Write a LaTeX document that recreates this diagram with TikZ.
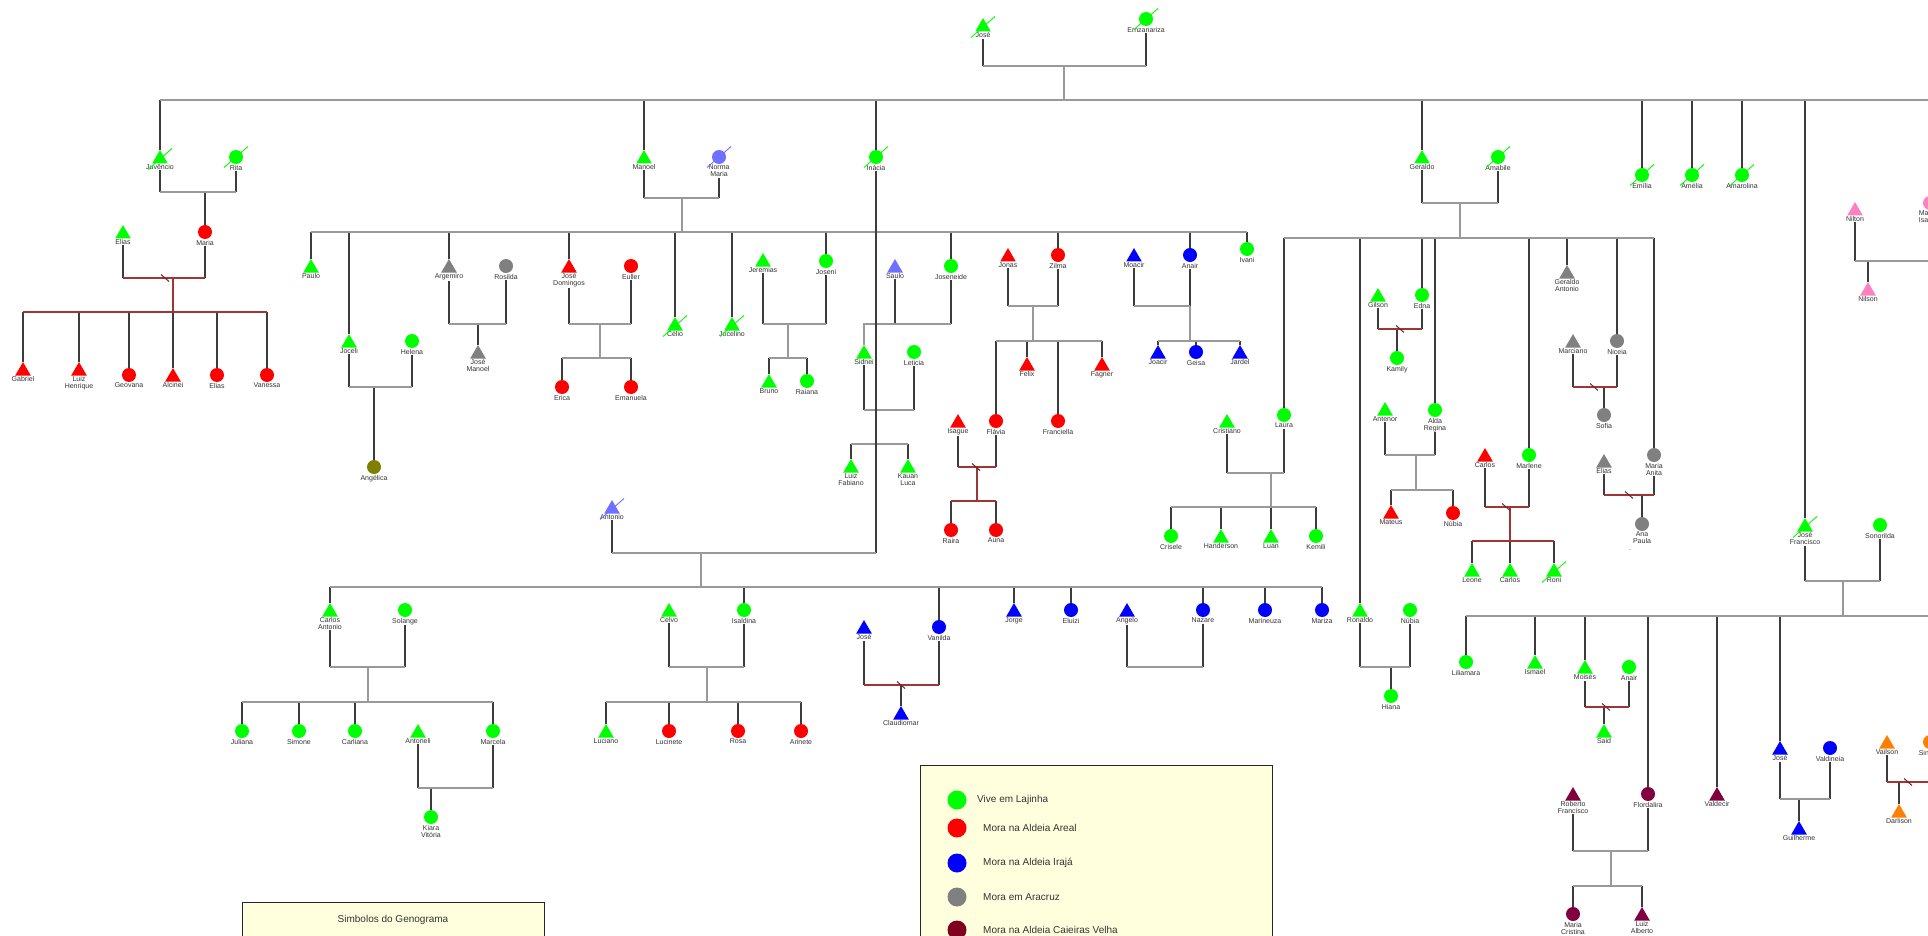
\documentclass[tikz,border=0pt]{standalone}
\usepackage{fontspec}
\setmainfont{Liberation Sans}
\usetikzlibrary{shapes.geometric}

\definecolor{verde}{HTML}{00FF00}
\definecolor{vermelho}{HTML}{FF0000}
\definecolor{azul}{HTML}{0000FF}
\definecolor{cinza}{HTML}{808080}
\definecolor{lilas}{HTML}{7070FF}
\definecolor{oliva}{HTML}{808000}
\definecolor{vinho}{HTML}{800040}
\definecolor{legvinho}{HTML}{800020}
\definecolor{laranja}{HTML}{FF8000}
\definecolor{rosa}{HTML}{FF80C0}
\definecolor{traco}{HTML}{3C3C3C}
\definecolor{elo}{HTML}{999999}
\definecolor{rompido}{HTML}{A03535}
\definecolor{creme}{HTML}{FFFFDD}
\definecolor{texto}{HTML}{333333}

% risco de falecido e corte de separacao
\newcommand{\falecido}[2]{\draw[#2, line width=0.9pt] ([shift={(-12,10.5)}]#1.center) -- ([shift={(12,-10.5)}]#1.center);}
\newcommand{\rompe}[1]{\draw[corte] ([shift={(-4,-3.5)}]#1) -- ([shift={(4,3.5)}]#1);}

\begin{document}
\begin{tikzpicture}[x=1pt, y=-1pt,
    homem/.style={regular polygon, regular polygon sides=3, fill=#1, minimum size=18pt, inner sep=0pt, yshift=-2pt},
    mulher/.style={circle, fill=#1, minimum size=14pt, inner sep=0pt},
    rotulo/.style={font=\fontsize{7}{7}\selectfont, text=texto, align=center, inner sep=0.6pt},
    linha/.style={traco, line width=1.2pt},
    uniao/.style={elo, line width=1.2pt},
    rompida/.style={rompido, line width=1.2pt},
    corte/.style={rompido!70!black, line width=1pt},
    caixa/.style={draw=black!85, fill=creme, line width=0.9pt},
    legenda/.style={font=\fontsize{10}{10}\selectfont, text=texto, anchor=west, inner sep=0pt}]

    \useasboundingbox (0,0) rectangle (1928,936);
    \clip (0,0) rectangle (1928,936);
    \fill[white] (0,0) rectangle (1928,936);

    % Geracao 1
    \node[homem=verde, label={[rotulo,name=jose-l]below:José}] (jose) at (983,25) {};
    \node[mulher=verde, label={[rotulo,name=ernz-l]below:Ernzanariza}] (ernz) at (1146,19) {};

    % Filhos de Jose e Ernzanariza
    \node[homem=verde, label={[rotulo,name=juv-l]below:Juvêncio}] (juv) at (160,157) {};
    \node[mulher=verde, label={[rotulo,name=rita-l]below:Rita}] (rita) at (236,157) {};
    \node[homem=verde, label={[rotulo,name=manoel-l]below:Manoel}] (manoel) at (644,157) {};
    \node[mulher=lilas, label={[rotulo,name=norma-l]below:Norma\\Maria}] (norma) at (719,157) {};
    \node[mulher=verde, label={[rotulo,name=inacia-l]below:Inácia}] (inacia) at (876,157) {};
    \node[homem=verde, label={[rotulo,name=geraldo-l]below:Geraldo}] (geraldo) at (1422,157) {};
    \node[mulher=verde, label={[rotulo,name=amabile-l]below:Amabile}] (amabile) at (1498,157) {};
    \node[mulher=verde, label={[rotulo]below:Emília}] (emilia) at (1642,175) {};
    \node[mulher=verde, label={[rotulo]below:Amélia}] (amelia) at (1692,175) {};
    \node[mulher=verde, label={[rotulo]below:Amarolina}] (amarolina) at (1742,175) {};
    \node[homem=verde, label={[rotulo,name=josefr-l]below:José\\Francisco}] (josefr) at (1805,525) {};
    \node[mulher=verde, label={[rotulo,name=sonorilda-l]below:Sonorilda}] (sonorilda) at (1880,525) {};

    % Ramo de Juvencio e Rita
    \node[homem=verde, label={[rotulo,name=elias1-l]below:Elias}] (elias1) at (123,232) {};
    \node[mulher=vermelho, label={[rotulo,name=maria-l]below:Maria}] (maria) at (205,232) {};
    \node[homem=vermelho, label={[rotulo]below:Gabriel}] (gabriel) at (23,369) {};
    \node[homem=vermelho, label={[rotulo]below:Luiz\\Henrique}] (luizh) at (79,369) {};
    \node[mulher=vermelho, label={[rotulo]below:Geovana}] (geovana) at (129,375) {};
    \node[homem=vermelho, label={[rotulo]below:Alcinei}] (alcinei) at (173,375) {};
    \node[mulher=vermelho, label={[rotulo]below:Elias}] (elias2) at (217,375) {};
    \node[mulher=vermelho, label={[rotulo]below:Vanessa}] (vanessa) at (267,375) {};

    % Ramo de Manoel e Norma Maria
    \node[homem=verde, label={[rotulo]below:Paulo}] (paulo) at (311,266) {};
    \node[homem=verde, label={[rotulo,name=joceli-l]below:Joceli}] (joceli) at (349,341) {};
    \node[mulher=verde, label={[rotulo,name=helena-l]below:Helena}] (helena) at (412,341) {};
    \node[mulher=oliva, label={[rotulo]below:Angélica}] (angelica) at (374,467) {};
    \node[homem=cinza, label={[rotulo,name=argemiro-l]below:Argemiro}] (argemiro) at (449,266) {};
    \node[mulher=cinza, label={[rotulo,name=rosilda-l]below:Rosilda}] (rosilda) at (506,266) {};
    \node[homem=cinza, label={[rotulo]below:José\\Manoel}] (josemanoel) at (478,352) {};
    \node[homem=vermelho, label={[rotulo,name=josedom-l]below:José\\Domingos}] (josedom) at (569,266) {};
    \node[mulher=vermelho, label={[rotulo,name=euller-l]below:Euller}] (euller) at (631,266) {};
    \node[mulher=vermelho, label={[rotulo]below:Erica}] (erica) at (562,387) {};
    \node[mulher=vermelho, label={[rotulo]below:Emanuela}] (emanuela) at (631,387) {};
    \node[homem=verde, label={[rotulo]below:Célio}] (celio) at (675,324) {};
    \node[homem=verde, label={[rotulo]below:Jocelino}] (jocelino) at (732,324) {};
    \node[homem=verde, label={[rotulo,name=jeremias-l]below:Jeremias}] (jeremias) at (763,260) {};
    \node[mulher=verde, label={[rotulo,name=joseni-l]below:Joseni}] (joseni) at (826,261) {};
    \node[homem=verde, label={[rotulo]below:Bruno}] (bruno) at (769,381) {};
    \node[mulher=verde, label={[rotulo]below:Raiana}] (raiana) at (807,381) {};
    \node[homem=lilas, label={[rotulo,name=saulo-l]below:Saulo}] (saulo) at (895,266) {};
    \node[mulher=verde, label={[rotulo,name=joseneide-l]below:Joseneide}] (joseneide) at (951,266) {};
    \node[homem=verde, label={[rotulo,name=sidnei-l]below:Sidnei}] (sidnei) at (864,352) {};
    \node[mulher=verde, label={[rotulo,name=leticia-l]below:Leticia}] (leticia) at (914,352) {};
    \node[homem=verde, label={[rotulo]below:Luiz\\Fabiano}] (luizf) at (851,466) {};
    \node[homem=verde, label={[rotulo]below:Kauan\\Luca}] (kauan) at (908,466) {};
    \node[homem=vermelho, label={[rotulo,name=jonas-l]below:Jonas}] (jonas) at (1008,255) {};
    \node[mulher=vermelho, label={[rotulo,name=zilma-l]below:Zilma}] (zilma) at (1058,255) {};
    \node[homem=vermelho, label={[rotulo]below:Felix}] (felix) at (1027,364) {};
    \node[mulher=vermelho, label={[rotulo,name=flavia-l]below:Flávia}] (flavia) at (996,421) {};
    \node[mulher=vermelho, label={[rotulo]below:Franciella}] (franciella) at (1058,421) {};
    \node[homem=vermelho, label={[rotulo]below:Fagner}] (fagner) at (1102,364) {};
    \node[homem=vermelho, label={[rotulo,name=isague-l]below:Isague}] (isague) at (958,421) {};
    \node[mulher=vermelho, label={[rotulo]below:Raira}] (raira) at (951,530) {};
    \node[mulher=vermelho, label={[rotulo]below:Auna}] (auna) at (996,530) {};
    \node[homem=azul, label={[rotulo,name=moacir-l]below:Moacir}] (moacir) at (1134,255) {};
    \node[mulher=azul, label={[rotulo,name=anair1-l]below:Anair}] (anair1) at (1190,255) {};
    \node[homem=azul, label={[rotulo]below:Joacir}] (joacir) at (1158,352) {};
    \node[mulher=azul, label={[rotulo]below:Geisa}] (geisa) at (1196,352) {};
    \node[homem=azul, label={[rotulo]below:Jardel}] (jardel) at (1240,352) {};
    \node[mulher=verde, label={[rotulo]below:Ivani}] (ivani) at (1247,249) {};

    % Ramo de Antonio e Inacia
    \node[homem=lilas, label={[rotulo,name=antonio-l]below:Antonio}] (antonio) at (612,507) {};
    \node[homem=verde, label={[rotulo,name=carlosa-l]below:Carlos\\Antonio}] (carlosa) at (330,610) {};
    \node[mulher=verde, label={[rotulo,name=solange-l]below:Solange}] (solange) at (405,610) {};
    \node[mulher=verde, label={[rotulo]below:Juliana}] (juliana) at (242,731) {};
    \node[mulher=verde, label={[rotulo]below:Simone}] (simone) at (299,731) {};
    \node[mulher=verde, label={[rotulo]below:Carliana}] (carliana) at (355,731) {};
    \node[homem=verde, label={[rotulo,name=antoneli-l]below:Antoneli}] (antoneli) at (418,731) {};
    \node[mulher=verde, label={[rotulo,name=marcela-l]below:Marcela}] (marcela) at (493,731) {};
    \node[mulher=verde, label={[rotulo]below:Kiara\\Vitória}] (kiara) at (431,817) {};
    \node[homem=verde, label={[rotulo,name=celvo-l]below:Celvo}] (celvo) at (669,610) {};
    \node[mulher=verde, label={[rotulo,name=isaldina-l]below:Isaldina}] (isaldina) at (744,610) {};
    \node[homem=verde, label={[rotulo]below:Luciano}] (luciano) at (606,731) {};
    \node[mulher=vermelho, label={[rotulo]below:Lucinete}] (lucinete) at (669,731) {};
    \node[mulher=vermelho, label={[rotulo]below:Rosa}] (rosa) at (738,731) {};
    \node[mulher=vermelho, label={[rotulo]below:Arinete}] (arinete) at (801,731) {};
    \node[homem=azul, label={[rotulo,name=jose2-l]below:José}] (jose2) at (864,627) {};
    \node[mulher=azul, label={[rotulo,name=vanilda-l]below:Vanilda}] (vanilda) at (939,627) {};
    \node[homem=azul, label={[rotulo]below:Claudiomar}] (claudiomar) at (901,713) {};
    \node[homem=azul, label={[rotulo]below:Jorge}] (jorge) at (1014,610) {};
    \node[mulher=azul, label={[rotulo]below:Eluizi}] (eluizi) at (1071,610) {};
    \node[homem=azul, label={[rotulo,name=angelo-l]below:Angelo}] (angelo) at (1127,610) {};
    \node[mulher=azul, label={[rotulo,name=nazare-l]below:Nazare}] (nazare) at (1203,610) {};
    \node[mulher=azul, label={[rotulo]below:Marineuza}] (marineuza) at (1265,610) {};
    \node[mulher=azul, label={[rotulo]below:Mariza}] (mariza) at (1322,610) {};

    % Ramo de Geraldo e Amabile
    \node[mulher=verde, label={[rotulo,name=laura-l]below:Laura}] (laura) at (1284,415) {};
    \node[homem=verde, label={[rotulo,name=cristiano-l]below:Cristiano}] (cristiano) at (1227,421) {};
    \node[mulher=verde, label={[rotulo]below:Crisele}] (crisele) at (1171,536) {};
    \node[homem=verde, label={[rotulo]below:Handerson}] (handerson) at (1221,536) {};
    \node[homem=verde, label={[rotulo]below:Luan}] (luan) at (1271,536) {};
    \node[mulher=verde, label={[rotulo]below:Kemili}] (kemili) at (1316,536) {};
    \node[homem=verde, label={[rotulo,name=ronaldo-l]below:Ronaldo}] (ronaldo) at (1360,610) {};
    \node[mulher=verde, label={[rotulo,name=nubia1-l]below:Núbia}] (nubia1) at (1410,610) {};
    \node[mulher=verde, label={[rotulo]below:Hiana}] (hiana) at (1391,696) {};
    \node[homem=verde, label={[rotulo,name=gilson-l]below:Gilson}] (gilson) at (1378,295) {};
    \node[mulher=verde, label={[rotulo,name=edna-l]below:Edna}] (edna) at (1422,295) {};
    \node[mulher=verde, label={[rotulo]below:Kamily}] (kamily) at (1397,358) {};
    \node[homem=verde, label={[rotulo,name=antenor-l]below:Antenor}] (antenor) at (1385,409) {};
    \node[mulher=verde, label={[rotulo,name=alda-l]below:Alda\\Regina}] (alda) at (1435,410) {};
    \node[homem=vermelho, label={[rotulo]below:Mateus}] (mateus) at (1391,512) {};
    \node[mulher=vermelho, label={[rotulo]below:Núbia}] (nubia2) at (1453,513) {};
    \node[homem=vermelho, label={[rotulo,name=carlos1-l]below:Carlos}] (carlos1) at (1485,455) {};
    \node[mulher=verde, label={[rotulo,name=marlene-l]below:Marlene}] (marlene) at (1529,455) {};
    \node[homem=verde, label={[rotulo]below:Leone}] (leone) at (1472,570) {};
    \node[homem=verde, label={[rotulo]below:Carlos}] (carlos2) at (1510,570) {};
    \node[homem=verde, label={[rotulo]below:Roni}] (roni) at (1554,570) {};
    \node[homem=cinza, label={[rotulo]below:Geraldo\\Antonio}] (geraldoa) at (1567,272) {};
    \node[homem=cinza, label={[rotulo,name=marciano-l]below:Marciano}] (marciano) at (1573,341) {};
    \node[mulher=cinza, label={[rotulo,name=niceia-l]below:Niceia}] (niceia) at (1617,341) {};
    \node[mulher=cinza, label={[rotulo]below:Sofia}] (sofia) at (1604,415) {};
    \node[homem=cinza, label={[rotulo,name=elias3-l]below:Elias}] (elias3) at (1604,461) {};
    \node[mulher=cinza, label={[rotulo,name=mariaan-l]below:Maria\\Anita}] (mariaan) at (1654,455) {};
    \node[mulher=cinza, label={[rotulo]below:Ana\\Paula}] (anapaula) at (1642,524) {};
    \node[rotulo] (ponto) at (1630,550) {.};

    % Ramo de Jose Francisco e Sonorilda
    \node[mulher=verde, label={[rotulo]below:Liliamara}] (liliamara) at (1466,662) {};
    \node[homem=verde, label={[rotulo]below:Ismael}] (ismael) at (1535,662) {};
    \node[homem=verde, label={[rotulo,name=moises-l]below:Moisés}] (moises) at (1585,667) {};
    \node[mulher=verde, label={[rotulo,name=anair2-l]below:Anair}] (anair2) at (1629,667) {};
    \node[homem=verde, label={[rotulo]below:Said}] (said) at (1604,731) {};
    \node[homem=vinho, label={[rotulo,name=roberto-l]below:Roberto\\Francisco}] (roberto) at (1573,794) {};
    \node[mulher=vinho, label={[rotulo,name=flordalira-l]below:Flordalira}] (flordalira) at (1648,794) {};
    \node[mulher=vinho, label={[rotulo]below:Maria\\Cristina}] (mariacr) at (1573,914) {};
    \node[homem=vinho, label={[rotulo]below:Luiz\\Alberto}] (luiza) at (1642,914) {};
    \node[homem=vinho, label={[rotulo]below:Valdecir}] (valdecir) at (1717,794) {};
    \node[homem=azul, label={[rotulo,name=jose3-l]below:José}] (jose3) at (1780,748) {};
    \node[mulher=azul, label={[rotulo,name=valdineia-l]below:Valdineia}] (valdineia) at (1830,748) {};
    \node[homem=azul, label={[rotulo]below:Guilherme}] (guilherme) at (1799,828) {};
    \node[homem=laranja, label={[rotulo,name=vailson-l]below:Vailson}] (vailson) at (1887,742) {};
    \node[mulher=laranja] (sin) at (1930,742) {};
    \node[rotulo, anchor=west] (sin-l) at (1918,753) {Sin};
    \node[homem=laranja, label={[rotulo]below:Darlison}] (darlison) at (1899,811) {};

    % Nilton e Ma...
    \node[homem=rosa, label={[rotulo,name=nilton-l]below:Nilton}] (nilton) at (1855,209) {};
    \node[mulher=rosa] (ma) at (1930,203) {};
    \node[rotulo, anchor=north west, align=left] (ma-l) at (1918,210) {Ma\\Isa};
    \node[homem=rosa, label={[rotulo]below:Nilson}] (nilson) at (1868,289) {};

    % Jose e Ernzanariza
    \coordinate (u1) at (1064,66);
    \coordinate (f1) at (1064,100);
    \coordinate (f1fim) at (1935,100);
    \draw[linha] (jose-l.south) -- (jose-l.south |- u1) (ernz-l.south) -- (ernz-l.south |- u1);
    \foreach \p in {juv,manoel,inacia,geraldo,emilia,amelia,amarolina,josefr}
        \draw[linha] (\p.north) -- (\p.north |- f1);
    \draw[uniao] (jose-l.south |- u1) -- (ernz-l.south |- u1) (u1) -- (f1) (juv.north |- f1) -- (f1fim);

    % Juvencio e Rita
    \coordinate (u2) at (205,192);
    \draw[linha] (juv-l.south) -- (juv-l.south |- u2) (rita-l.south) -- (rita-l.south |- u2) (u2) -- (maria.north);
    \draw[uniao] (juv-l.south |- u2) -- (rita-l.south |- u2);

    % Elias e Maria (separados)
    \coordinate (u3) at (173,278);
    \coordinate (f3) at (173,312);
    \draw[linha] (elias1-l.south) -- (elias1-l.south |- u3) (maria-l.south) -- (maria-l.south |- u3);
    \foreach \p in {gabriel,luizh,geovana,alcinei,elias2,vanessa}
        \draw[linha] (\p.north) -- (\p.north |- f3);
    \draw[rompida] (elias1-l.south |- u3) -- (maria-l.south |- u3) (u3) -- (f3) (gabriel.north |- f3) -- (vanessa.north |- f3);
    \rompe{165,278}

    % Manoel e Norma Maria
    \coordinate (u4) at (682,198);
    \coordinate (f4) at (682,232);
    \draw[linha] (manoel-l.south) -- (manoel-l.south |- u4) (norma-l.south) -- (norma-l.south |- u4);
    \foreach \p in {paulo,joceli,argemiro,josedom,celio,jocelino,joseni,joseneide,zilma,anair1,ivani}
        \draw[linha] (\p.north) -- (\p.north |- f4);
    \draw[uniao] (manoel-l.south |- u4) -- (norma-l.south |- u4) (u4) -- (f4) (paulo.north |- f4) -- (ivani.north |- f4);

    % Joceli e Helena
    \coordinate (u5) at (374,387);
    \draw[linha] (joceli-l.south) -- (joceli-l.south |- u5) (helena-l.south) -- (helena-l.south |- u5) (u5) -- (angelica.north);
    \draw[uniao] (joceli-l.south |- u5) -- (helena-l.south |- u5);

    % Argemiro e Rosilda
    \coordinate (u6) at (478,324);
    \draw[linha] (argemiro-l.south) -- (argemiro-l.south |- u6) (rosilda-l.south) -- (rosilda-l.south |- u6) (u6) -- (josemanoel.north);
    \draw[uniao] (argemiro-l.south |- u6) -- (rosilda-l.south |- u6);

    % Jose Domingos e Euller
    \coordinate (u7) at (600,324);
    \coordinate (f7) at (600,358);
    \draw[linha] (josedom-l.south) -- (josedom-l.south |- u7) (euller-l.south) -- (euller-l.south |- u7)
        (erica.north) -- (erica.north |- f7) (emanuela.north) -- (emanuela.north |- f7);
    \draw[uniao] (josedom-l.south |- u7) -- (euller-l.south |- u7) (u7) -- (f7) (erica.north |- f7) -- (emanuela.north |- f7);

    % Jeremias e Joseni
    \coordinate (u8) at (788,324);
    \coordinate (f8) at (788,358);
    \draw[linha] (jeremias-l.south) -- (jeremias-l.south |- u8) (joseni-l.south) -- (joseni-l.south |- u8)
        (bruno.north) -- (bruno.north |- f8) (raiana.north) -- (raiana.north |- f8);
    \draw[uniao] (jeremias-l.south |- u8) -- (joseni-l.south |- u8) (u8) -- (f8) (bruno.north |- f8) -- (raiana.north |- f8);

    % Saulo e Joseneide
    \coordinate (u9) at (923,324);
    \draw[linha] (saulo-l.south) -- (saulo-l.south |- u9) (joseneide-l.south) -- (joseneide-l.south |- u9);
    \draw[uniao] (saulo-l.south |- u9) -- (joseneide-l.south |- u9) (u9) -| (sidnei.north);

    % Sidnei e Leticia
    \coordinate (u10) at (876,410);
    \coordinate (f10) at (876,444);
    \draw[linha] (sidnei-l.south) -- (sidnei-l.south |- u10) (leticia-l.south) -- (leticia-l.south |- u10)
        (luizf.north) -- (luizf.north |- f10) (kauan.north) -- (kauan.north |- f10);
    \draw[uniao] (sidnei-l.south |- u10) -- (leticia-l.south |- u10) (u10) -- (f10) (luizf.north |- f10) -- (kauan.north |- f10);

    % Jonas e Zilma
    \coordinate (u11) at (1033,306);
    \coordinate (f11) at (1033,341);
    \draw[linha] (jonas-l.south) -- (jonas-l.south |- u11) (zilma-l.south) -- (zilma-l.south |- u11);
    \foreach \p in {flavia,felix,franciella,fagner}
        \draw[linha] (\p.north) -- (\p.north |- f11);
    \draw[uniao] (jonas-l.south |- u11) -- (zilma-l.south |- u11) (u11) -- (f11) (flavia.north |- f11) -- (fagner.north |- f11);

    % Isague e Flavia (separados)
    \coordinate (u12) at (977,467);
    \coordinate (f12) at (977,501);
    \draw[linha] (isague-l.south) -- (isague-l.south |- u12) (flavia-l.south) -- (flavia-l.south |- u12)
        (raira.north) -- (raira.north |- f12) (auna.north) -- (auna.north |- f12);
    \draw[rompida] (isague-l.south |- u12) -- (flavia-l.south |- u12) (u12) -- (f12) (raira.north |- f12) -- (auna.north |- f12);
    \rompe{976,467}

    % Moacir e Anair
    \coordinate (u13) at (1190,306);
    \coordinate (f13) at (1190,341);
    \draw[linha] (moacir-l.south) -- (moacir-l.south |- u13) (anair1-l.south) -- (anair1-l.south |- u13);
    \foreach \p in {joacir,geisa,jardel}
        \draw[linha] (\p.north) -- (\p.north |- f13);
    \draw[uniao] (moacir-l.south |- u13) -- (anair1-l.south |- u13) (u13) -- (f13) (joacir.north |- f13) -- (jardel.north |- f13);

    % Antonio e Inacia
    \coordinate (u14) at (701,553);
    \coordinate (f14) at (701,587);
    \draw[linha] (antonio-l.south) -- (antonio-l.south |- u14) (inacia-l.south) -- (inacia-l.south |- u14);
    \foreach \p in {carlosa,isaldina,vanilda,jorge,eluizi,nazare,marineuza,mariza}
        \draw[linha] (\p.north) -- (\p.north |- f14);
    \draw[uniao] (antonio-l.south |- u14) -- (inacia-l.south |- u14) (u14) -- (f14) (carlosa.north |- f14) -- (mariza.north |- f14);

    % Carlos Antonio e Solange
    \coordinate (u15) at (368,667);
    \coordinate (f15) at (368,702);
    \draw[linha] (carlosa-l.south) -- (carlosa-l.south |- u15) (solange-l.south) -- (solange-l.south |- u15);
    \foreach \p in {juliana,simone,carliana,marcela}
        \draw[linha] (\p.north) -- (\p.north |- f15);
    \draw[uniao] (carlosa-l.south |- u15) -- (solange-l.south |- u15) (u15) -- (f15) (juliana.north |- f15) -- (marcela.north |- f15);

    % Antoneli e Marcela
    \coordinate (u16) at (431,788);
    \draw[linha] (antoneli-l.south) -- (antoneli-l.south |- u16) (marcela-l.south) -- (marcela-l.south |- u16) (u16) -- (kiara.north);
    \draw[uniao] (antoneli-l.south |- u16) -- (marcela-l.south |- u16);

    % Celvo e Isaldina
    \coordinate (u17) at (707,667);
    \coordinate (f17) at (707,702);
    \draw[linha] (celvo-l.south) -- (celvo-l.south |- u17) (isaldina-l.south) -- (isaldina-l.south |- u17);
    \foreach \p in {luciano,lucinete,rosa,arinete}
        \draw[linha] (\p.north) -- (\p.north |- f17);
    \draw[uniao] (celvo-l.south |- u17) -- (isaldina-l.south |- u17) (u17) -- (f17) (luciano.north |- f17) -- (arinete.north |- f17);

    % Jose e Vanilda (separados)
    \coordinate (u18) at (901,685);
    \draw[linha] (jose2-l.south) -- (jose2-l.south |- u18) (vanilda-l.south) -- (vanilda-l.south |- u18) (u18) -- (claudiomar.north);
    \draw[rompida] (jose2-l.south |- u18) -- (vanilda-l.south |- u18);
    \rompe{901,685}

    % Angelo e Nazare
    \coordinate (u19) at (1165,667);
    \draw[linha] (angelo-l.south) -- (angelo-l.south |- u19) (nazare-l.south) -- (nazare-l.south |- u19);
    \draw[uniao] (angelo-l.south |- u19) -- (nazare-l.south |- u19);

    % Geraldo e Amabile
    \coordinate (u20) at (1460,203);
    \coordinate (f20) at (1460,238);
    \draw[linha] (geraldo-l.south) -- (geraldo-l.south |- u20) (amabile-l.south) -- (amabile-l.south |- u20);
    \foreach \p in {laura,ronaldo,edna,alda,marlene,geraldoa,niceia,mariaan}
        \draw[linha] (\p.north) -- (\p.north |- f20);
    \draw[uniao] (geraldo-l.south |- u20) -- (amabile-l.south |- u20) (u20) -- (f20) (laura.north |- f20) -- (mariaan.north |- f20);

    % Gilson e Edna (separados)
    \coordinate (u21) at (1397,329);
    \draw[linha] (gilson-l.south) -- (gilson-l.south |- u21) (edna-l.south) -- (edna-l.south |- u21) (u21) -- (kamily.north);
    \draw[rompida] (gilson-l.south |- u21) -- (edna-l.south |- u21);
    \rompe{1400,329}

    % Antenor e Alda Regina
    \coordinate (u22) at (1416,455);
    \coordinate (f22) at (1416,490);
    \draw[linha] (antenor-l.south) -- (antenor-l.south |- u22) (alda-l.south) -- (alda-l.south |- u22)
        (mateus.north) -- (mateus.north |- f22) (nubia2.north) -- (nubia2.north |- f22);
    \draw[uniao] (antenor-l.south |- u22) -- (alda-l.south |- u22) (u22) -- (f22) (mateus.north |- f22) -- (nubia2.north |- f22);

    % Carlos e Marlene (separados)
    \coordinate (u23) at (1510,507);
    \coordinate (f23) at (1510,541);
    \draw[linha] (carlos1-l.south) -- (carlos1-l.south |- u23) (marlene-l.south) -- (marlene-l.south |- u23);
    \foreach \p in {leone,carlos2,roni}
        \draw[linha] (\p.north) -- (\p.north |- f23);
    \draw[rompida] (carlos1-l.south |- u23) -- (marlene-l.south |- u23) (u23) -- (f23) (leone.north |- f23) -- (roni.north |- f23);
    \rompe{1506,507}

    % Marciano e Niceia (separados)
    \coordinate (u24) at (1604,387);
    \draw[linha] (marciano-l.south) -- (marciano-l.south |- u24) (niceia-l.south) -- (niceia-l.south |- u24) (u24) -- (sofia.north);
    \draw[rompida] (marciano-l.south |- u24) -- (niceia-l.south |- u24);
    \rompe{1594,387}

    % Elias e Maria Anita (separados)
    \coordinate (u25) at (1642,495);
    \draw[linha] (elias3-l.south) -- (elias3-l.south |- u25) (mariaan-l.south) -- (mariaan-l.south |- u25) (u25) -- (anapaula.north);
    \draw[rompida] (elias3-l.south |- u25) -- (mariaan-l.south |- u25);
    \rompe{1629,495}

    % Cristiano e Laura
    \coordinate (u26) at (1271,473);
    \coordinate (f26) at (1271,507);
    \draw[linha] (cristiano-l.south) -- (cristiano-l.south |- u26) (laura-l.south) -- (laura-l.south |- u26);
    \foreach \p in {crisele,handerson,luan,kemili}
        \draw[linha] (\p.north) -- (\p.north |- f26);
    \draw[uniao] (cristiano-l.south |- u26) -- (laura-l.south |- u26) (u26) -- (f26) (crisele.north |- f26) -- (kemili.north |- f26);

    % Ronaldo e Nubia
    \coordinate (u27) at (1391,667);
    \draw[linha] (ronaldo-l.south) -- (ronaldo-l.south |- u27) (nubia1-l.south) -- (nubia1-l.south |- u27) (u27) -- (hiana.north);
    \draw[uniao] (ronaldo-l.south |- u27) -- (nubia1-l.south |- u27);

    % Jose Francisco e Sonorilda
    \coordinate (u28) at (1843,581);
    \coordinate (f28) at (1843,616);
    \coordinate (f28fim) at (1935,616);
    \draw[linha] (josefr-l.south) -- (josefr-l.south |- u28) (sonorilda-l.south) -- (sonorilda-l.south |- u28);
    \foreach \p in {liliamara,ismael,moises,flordalira,valdecir,jose3}
        \draw[linha] (\p.north) -- (\p.north |- f28);
    \draw[uniao] (josefr-l.south |- u28) -- (sonorilda-l.south |- u28) (u28) -- (f28) (liliamara.north |- f28) -- (f28fim);

    % Moises e Anair (separados)
    \coordinate (u29) at (1604,707);
    \draw[linha] (moises-l.south) -- (moises-l.south |- u29) (anair2-l.south) -- (anair2-l.south |- u29) (u29) -- (said.north);
    \draw[rompida] (moises-l.south |- u29) -- (anair2-l.south |- u29);
    \rompe{1606,707}

    % Roberto Francisco e Flordalira
    \coordinate (u30) at (1611,851);
    \coordinate (f30) at (1611,886);
    \draw[linha] (roberto-l.south) -- (roberto-l.south |- u30) (flordalira-l.south) -- (flordalira-l.south |- u30)
        (mariacr.north) -- (mariacr.north |- f30) (luiza.north) -- (luiza.north |- f30);
    \draw[uniao] (roberto-l.south |- u30) -- (flordalira-l.south |- u30) (u30) -- (f30) (mariacr.north |- f30) -- (luiza.north |- f30);

    % Jose e Valdineia
    \coordinate (u31) at (1799,799);
    \draw[linha] (jose3-l.south) -- (jose3-l.south |- u31) (valdineia-l.south) -- (valdineia-l.south |- u31) (u31) -- (guilherme.north);
    \draw[uniao] (jose3-l.south |- u31) -- (valdineia-l.south |- u31);

    % Vailson e Sin... (separados)
    \coordinate (u32) at (1899,782);
    \draw[linha] (vailson-l.south) -- (vailson-l.south |- u32) (sin.south) -- (sin.south |- u32) (u32) -- (darlison.north);
    \draw[rompida] (vailson-l.south |- u32) -- (sin.south |- u32);
    \rompe{1908,782}

    % Nilton e Ma...
    \coordinate (u33) at (1868,261);
    \draw[linha] (nilton-l.south) -- (nilton-l.south |- u33) (u33) -- (nilson.north);
    \draw[uniao] (nilton-l.south |- u33) -- (ma.south |- u33);

    % Falecidos
    \falecido{jose}{verde}
    \falecido{ernz}{verde}
    \falecido{juv}{verde}
    \falecido{rita}{verde}
    \falecido{norma}{lilas}
    \falecido{inacia}{verde}
    \falecido{amabile}{verde}
    \falecido{emilia}{verde}
    \falecido{amelia}{verde}
    \falecido{amarolina}{verde}
    \falecido{celio}{verde}
    \falecido{jocelino}{verde}
    \falecido{antonio}{lilas}
    \falecido{roni}{verde}
    \falecido{josefr}{verde}

    % Quadros de legenda
    \draw[caixa] (242,902) rectangle (544,960);
    \node[font=\fontsize{10}{10}\selectfont, text=texto] (titulo) at (393,920) {Simbolos do Genograma};
    \draw[caixa] (920,765) rectangle (1272,960);
    \node[mulher=verde, minimum size=19pt] (lg1) at (957,800) {};
    \node[legenda] at (977,800) {Vive em Lajinha};
    \node[mulher=vermelho, minimum size=19pt] (lg2) at (957,828) {};
    \node[legenda] at (983,828) {Mora na Aldeia Areal};
    \node[mulher=azul, minimum size=19pt] (lg3) at (957,863) {};
    \node[legenda] at (983,863) {Mora na Aldeia Irajá};
    \node[mulher=cinza, minimum size=19pt] (lg4) at (957,897) {};
    \node[legenda] at (983,897) {Mora em Aracruz};
    \node[mulher=legvinho, minimum size=19pt] (lg5) at (957,930) {};
    \node[legenda] at (983,930) {Mora na Aldeia Caieiras Velha};
\end{tikzpicture}
\end{document}
